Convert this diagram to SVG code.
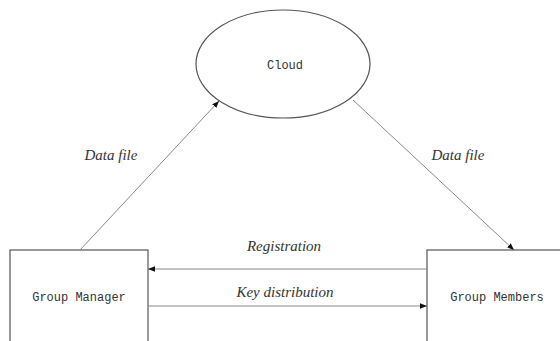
<svg xmlns="http://www.w3.org/2000/svg" width="560" height="341" viewBox="0 0 560 341">
<style>
.node{fill:#fff;stroke:#555;stroke-width:1.2}
.lbl{font-family:"Liberation Mono",monospace;font-size:12px;fill:#333;text-anchor:middle}
.edge{stroke:#888;stroke-width:1;fill:none;marker-end:url(#ah)}
.elbl{font-family:"Liberation Serif",serif;font-style:italic;font-size:15px;fill:#333;text-anchor:middle}
</style>
<defs>
<marker id="ah" viewBox="0 0 10 10" refX="10" refY="5" markerWidth="7" markerHeight="7" markerUnits="userSpaceOnUse" orient="auto">
<path d="M0,1 L10,5 L0,9 Z" fill="#111"/>
</marker>
</defs>
<rect width="560" height="341" fill="#fff"/>
<g id="cloud">
<ellipse class="node" cx="283" cy="64" rx="87" ry="54"/>
<text class="lbl" x="285" y="69">Cloud</text>
</g>
<g id="group-manager">
<rect class="node" x="10" y="250" width="138" height="100"/>
<text class="lbl" x="79" y="301">Group Manager</text>
</g>
<g id="group-members">
<rect class="node" x="427" y="250" width="150" height="100"/>
<text class="lbl" x="497" y="301">Group Members</text>
</g>
<g id="connectors">
<line class="edge" x1="80" y1="250" x2="219" y2="101"/>
<line class="edge" x1="353" y1="100" x2="514" y2="250"/>
<line class="edge" x1="427" y1="269" x2="148" y2="269"/>
<line class="edge" x1="148" y1="306" x2="427" y2="306"/>
<text class="elbl" x="111" y="160">Data file</text>
<text class="elbl" x="458" y="160">Data file</text>
<text class="elbl" x="284" y="251">Registration</text>
<text class="elbl" x="285" y="297">Key distribution</text>
</g>
</svg>
